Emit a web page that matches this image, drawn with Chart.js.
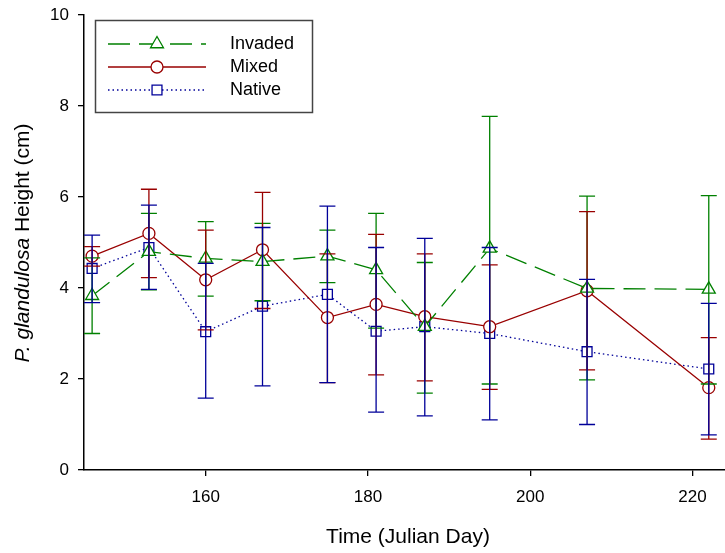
<!DOCTYPE html>
<html lang="en">
<head>
<meta charset="UTF-8">
<title>P. glandulosa height</title>
<script src="https://cdn.jsdelivr.net/npm/chart.js"></script>
<style>
    html, body { margin: 0; padding: 0; background: #fff; }
    #wrap { width: 725px; height: 553px; }
</style>
</head>
<body>
<div id="wrap"><canvas id="heightChart" width="725" height="553"></canvas></div>
<script>
// Julian days sampled
const days = [146, 153, 160, 167, 175, 181, 187, 195, 207, 222];

// mean height (cm) and error bar ends
const invaded     = [3.83, 4.80, 4.65, 4.58, 4.70, 4.40, 3.15, 4.87, 3.99, 3.97];
const invadedHigh = [4.66, 5.64, 5.46, 5.42, 5.27, 5.64, 4.56, 7.77, 6.02, 6.03];
const invadedLow  = [3.00, 3.96, 3.82, 3.72, 4.12, 3.12, 1.69, 1.89, 1.98, 1.89];

const mixed     = [4.70, 5.20, 4.18, 4.84, 3.35, 3.64, 3.37, 3.15, 3.94, 1.81];
const mixedHigh = [4.91, 6.17, 5.27, 6.10, 4.75, 5.18, 4.75, 4.51, 5.68, 2.91];
const mixedLow  = [4.48, 4.23, 3.08, 3.55, 1.92, 2.09, 1.96, 1.77, 2.20, 0.68];

const native     = [4.43, 4.89, 3.04, 3.60, 3.86, 3.05, 3.15, 3.00, 2.60, 2.22];
const nativeHigh = [5.16, 5.82, 4.54, 5.33, 5.80, 4.89, 5.09, 4.89, 4.19, 3.66];
const nativeLow  = [3.68, 3.97, 1.58, 1.85, 1.92, 1.27, 1.19, 1.10, 1.00, 0.77];

const xTicks = [160, 180, 200, 220];
const yTicks = [0, 2, 4, 6, 8, 10];

const GREEN = '#008000';
const RED = '#990000';
const BLUE = '#000099';
const FONT = '"Liberation Sans", Arial, sans-serif';

function pts(ys) {
    return days.map((d, i) => ({ x: d, y: ys[i] }));
}

// error bars, drawn through the chart's own scales
const errorBars = {
    id: 'errorBars',
    afterDatasetsDraw(chart) {
        const ctx = chart.ctx;
        const xs = chart.scales.x, ys = chart.scales.y;
        chart.data.datasets.forEach(ds => {
            ctx.save();
            ctx.strokeStyle = ds.borderColor;
            ctx.lineWidth = 1.3;
            ds.high.forEach((hi, i) => {
                const px = xs.getPixelForValue(days[i]);
                const top = ys.getPixelForValue(hi);
                const bot = ys.getPixelForValue(ds.low[i]);
                ctx.beginPath();
                ctx.moveTo(px, top); ctx.lineTo(px, bot);
                ctx.moveTo(px - 8, top); ctx.lineTo(px + 8, top);
                ctx.moveTo(px - 8, bot); ctx.lineTo(px + 8, bot);
                ctx.stroke();
            });
            ctx.restore();
        });
    }
};

// legend box, titles
const extras = {
    id: 'extras',
    afterDraw(chart) {
        const ctx = chart.ctx;
        ctx.save();
        // legend
        ctx.strokeStyle = '#444';
        ctx.lineWidth = 1.5;
        ctx.strokeRect(95.5, 20.5, 217, 92);
        chart.data.datasets.forEach((ds, i) => {
            const y = 44 + i * 23;
            ctx.save();
            ctx.strokeStyle = ds.borderColor;
            ctx.lineWidth = ds.borderWidth;
            ctx.setLineDash(ds.borderDash || []);
            ctx.beginPath();
            ctx.moveTo(108, y); ctx.lineTo(206, y);
            ctx.stroke();
            ctx.setLineDash([]);
            ctx.fillStyle = '#fff';
            Chart.helpers.drawPoint(ctx, {
                pointStyle: ds.pointStyle, radius: ds.pointRadius,
                rotation: 0, borderWidth: ds.pointBorderWidth
            }, 157, y);
            ctx.restore();
            ctx.fillStyle = '#000';
            ctx.font = '18px ' + FONT;
            ctx.textBaseline = 'middle';
            ctx.textAlign = 'left';
            ctx.fillText(ds.label, 230, y);
        });

        // x title
        ctx.fillStyle = '#000';
        ctx.font = '21px ' + FONT;
        ctx.textAlign = 'center';
        ctx.textBaseline = 'middle';
        ctx.fillText('Time (Julian Day)', 408, 537);

        // y title, species name in italics
        ctx.translate(23, 243);
        ctx.rotate(-Math.PI / 2);
        const part1 = 'P. glandulosa', part2 = ' Height (cm)';
        ctx.font = 'italic 21px ' + FONT;
        const w1 = ctx.measureText(part1).width;
        ctx.font = '21px ' + FONT;
        const w2 = ctx.measureText(part2).width;
        let x0 = -(w1 + w2) / 2;
        ctx.textAlign = 'left';
        ctx.font = 'italic 21px ' + FONT;
        ctx.fillText(part1, x0, 0);
        ctx.font = '21px ' + FONT;
        ctx.fillText(part2, x0 + w1, 0);
        ctx.restore();
    }
};

const lineBase = {
    borderWidth: 1.3,
    pointRadius: 6,
    pointBorderWidth: 1.3,
    pointBackgroundColor: '#fff',
    pointHoverRadius: 6,
    fill: false,
    tension: 0
};

new Chart(document.getElementById('heightChart'), {
    type: 'line',
    data: {
        datasets: [
            Object.assign({}, lineBase, {
                label: 'Invaded', data: pts(invaded), high: invadedHigh, low: invadedLow,
                borderColor: GREEN, pointBorderColor: GREEN, borderDash: [22, 9],
                pointStyle: 'triangle', pointRadius: 7.5
            }),
            Object.assign({}, lineBase, {
                label: 'Mixed', data: pts(mixed), high: mixedHigh, low: mixedLow,
                borderColor: RED, pointBorderColor: RED,
                pointStyle: 'circle', pointRadius: 6
            }),
            Object.assign({}, lineBase, {
                label: 'Native', data: pts(native), high: nativeHigh, low: nativeLow,
                borderColor: BLUE, pointBorderColor: BLUE, borderDash: [1.5, 3],
                pointStyle: 'rect', pointRadius: 7
            })
        ]
    },
    options: {
        responsive: false,
        animation: false,
        layout: { autoPadding: false, padding: { left: 0, top: 15, right: 0, bottom: 0 } },
        plugins: { legend: { display: false }, tooltip: { enabled: false } },
        scales: {
            x: {
                type: 'linear',
                min: 145,
                max: 224,
                afterBuildTicks: s => { s.ticks = xTicks.map(v => ({ value: v })); },
                afterFit: s => { s.height = 83; s.paddingLeft = 0; s.paddingRight = 0; },
                grid: { display: true, drawOnChartArea: false, drawTicks: true, tickLength: 6, color: '#000', lineWidth: 1.3 },
                border: { display: true, color: '#000', width: 1.5 },
                ticks: { color: '#000', padding: 11, maxRotation: 0, font: { family: FONT, size: 17 } }
            },
            y: {
                min: 0,
                max: 10,
                afterBuildTicks: s => { s.ticks = yTicks.map(v => ({ value: v })); },
                afterFit: s => { s.width = 84; s.paddingTop = 0; s.paddingBottom = 0; },
                grid: { display: true, drawOnChartArea: false, drawTicks: true, tickLength: 6, color: '#000', lineWidth: 1.3 },
                border: { display: true, color: '#000', width: 1.5 },
                ticks: { color: '#000', padding: 9, font: { family: FONT, size: 17 } }
            }
        }
    },
    plugins: [errorBars, extras]
});
</script>
</body>
</html>
